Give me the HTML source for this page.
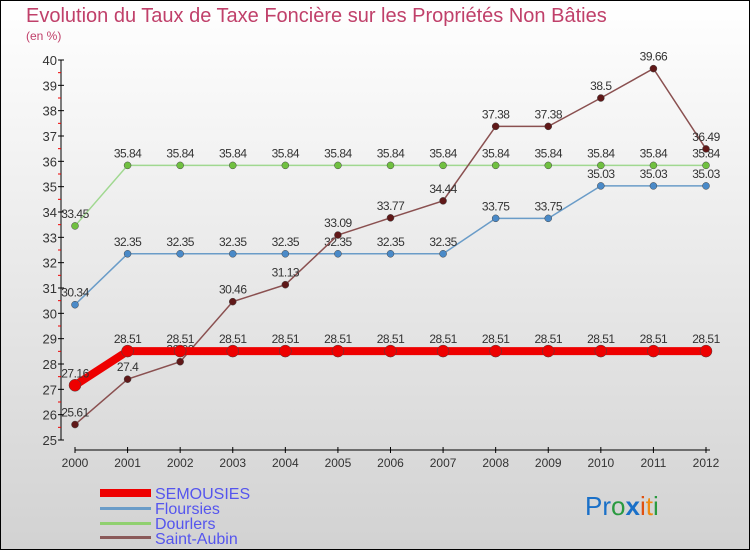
<!DOCTYPE html>
<html><head><meta charset="utf-8"><style>
body{margin:0;}
svg{display:block;font-family:"Liberation Sans",sans-serif;}
</style></head><body>
<svg width="750" height="550" xmlns="http://www.w3.org/2000/svg">
<defs><linearGradient id="bg" x1="0" y1="0" x2="0" y2="1"><stop offset="0" stop-color="#ffffff"/><stop offset="1" stop-color="#d2d2d2"/></linearGradient></defs>
<rect x="0.5" y="0.5" width="749" height="549" fill="url(#bg)" stroke="#000"/>
<text x="26" y="22" font-size="20" fill="#c0406a">Evolution du Taux de Taxe Foncière sur les Propriétés Non Bâties</text>
<text x="26" y="40" font-size="12" fill="#c0406a">(en %)</text>
<g id="axes"></g>
<g id="series"></g>
<g>
<rect x="100" y="489" width="51" height="8" fill="#e00"/>
<text x="155" y="499" font-size="16" fill="#5555ee">SEMOUSIES</text>
<rect x="100" y="507" width="51" height="3" fill="#6a9cc8"/>
<text x="155" y="514" font-size="16" fill="#5555ee">Floursies</text>
<rect x="100" y="522" width="51" height="3" fill="#90d070"/>
<text x="155" y="529" font-size="16" fill="#5555ee">Dourlers</text>
<rect x="100" y="536" width="51" height="3" fill="#8a5a5a"/>
<text x="155" y="544" font-size="16" fill="#5555ee">Saint-Aubin</text>
</g>
<g font-size="26">
<text x="585" y="515"><tspan fill="#1a70c8">Pr</tspan><tspan fill="#2a9a40">o</tspan><tspan fill="#1a70c8" font-weight="bold">x</tspan><tspan fill="#e05010">i</tspan><tspan fill="#f08a10">t</tspan><tspan fill="#2a9a40">i</tspan></text>
</g>
</svg>
<script>
const years=[2000,2001,2002,2003,2004,2005,2006,2007,2008,2009,2010,2011,2012];
const yTicks=[25,26,27,28,29,30,31,32,33,34,35,36,37,38,39,40];
const semousies=[27.16,28.51,28.51,28.51,28.51,28.51,28.51,28.51,28.51,28.51,28.51,28.51,28.51];
const floursies=[30.34,32.35,32.35,32.35,32.35,32.35,32.35,32.35,33.75,33.75,35.03,35.03,35.03];
const dourlers=[33.45,35.84,35.84,35.84,35.84,35.84,35.84,35.84,35.84,35.84,35.84,35.84,35.84];
const saintAubin=[25.61,27.4,28.09,30.46,31.13,33.09,33.77,34.44,37.38,37.38,38.5,39.66,36.49];
const NS="http://www.w3.org/2000/svg";
const xS=i=>75+i*(706-75)/(years.length-1);
const yS=v=>440-(v-25)*(380/15);
function mk(t,a,p){const e=document.createElementNS(NS,t);for(const k in a)e.setAttribute(k,a[k]);p.appendChild(e);return e;}
const ax=document.getElementById('axes');
let yl=mk('line',{x1:61,y1:60,x2:61,y2:440,stroke:'#000'},ax);


yTicks.forEach(v=>{
 mk('line',{x1:58,y1:yS(v),x2:64,y2:yS(v),stroke:'#000'},ax);
 if(v<40){mk('line',{x1:58,y1:yS(v+0.5),x2:61,y2:yS(v+0.5),stroke:'#e00'},ax);}
 let t=mk('text',{x:57,y:yS(v)+5,'font-size':13,fill:'#333','text-anchor':'end'},ax);
 
 
 t.textContent=v;
});
let xl=mk('line',{x1:75,y1:450,x2:710,y2:450,stroke:'#000'},ax);


years.forEach((y,i)=>{
 mk('line',{x1:xS(i),y1:447,x2:xS(i),y2:453,stroke:'#000'},ax);
 let t=mk('text',{x:xS(i),y:467,'font-size':12,fill:'#333','text-anchor':'middle'},ax);
 
 
 t.textContent=y;
});
const sg=document.getElementById('series');
function draw(vals,name,color,w,r,dot){
 const g=mk('g',{},sg);
 
 
 const pl=mk('polyline',{points:vals.map((v,i)=>xS(i)+','+yS(v)).join(' '),fill:'none',stroke:color,'stroke-width':w},g);
 
 
 vals.forEach((v,i)=>{
  const c=mk('circle',{cx:xS(i),cy:yS(v),r:r,fill:dot,stroke:'#444','stroke-width':0.5},g);
  
  
  const t=mk('text',{x:xS(i),y:yS(v)-8,'font-size':12,fill:'#333','text-anchor':'middle','letter-spacing':'-0.5'},g);
  
  
  t.textContent=v;
 });
}
draw(dourlers,'dourlers','#a0d890',1.5,3.5,'#70c040');
draw(floursies,'floursies','#6a9cc8',1.5,3.5,'#4a8ac8');
draw(saintAubin,'saint-aubin','#8a5050',1.5,3.5,'#601818');
draw(semousies,'semousies','#ee0000',8,6,'#ee0000');
</script>
</body></html>
